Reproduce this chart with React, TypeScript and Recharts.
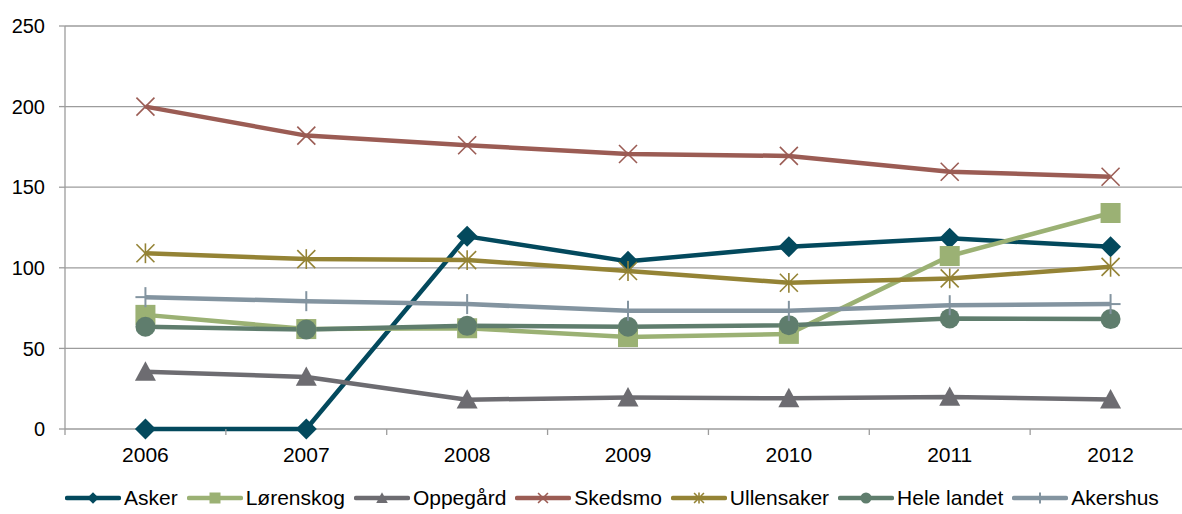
import React from "react"
import { LineChart, Line, XAxis, YAxis, CartesianGrid } from "recharts"

const years = ["2006", "2007", "2008", "2009", "2010", "2011", "2012"]
const asker = [0, 0, 119.5, 104, 113, 118.3, 113]
const lorenskog = [70.8, 62, 62.5, 57, 59, 107.3, 134]
const oppegard = [35.5, 32.3, 18.2, 19.5, 19, 19.9, 18.3]
const skedsmo = [200, 182, 176, 170.6, 169.4, 159.6, 156.5]
const ullensaker = [109, 105.4, 104.8, 98, 90.7, 93.4, 100.6]
const heleLandet = [63.4, 61.7, 64, 63.4, 64.4, 68.6, 68.2]
const akershus = [81.8, 79.3, 77.5, 73.3, 73.3, 76.8, 77.5]
const yTicks = [0, 50, 100, 150, 200, 250]

type Shape = "diamond" | "square" | "triangle" | "x" | "star" | "circle" | "plus"

const series: { key: string; name: string; color: string; shape: Shape; values: number[] }[] = [
  { key: "asker", name: "Asker", color: "#03495d", shape: "diamond", values: asker },
  { key: "lorenskog", name: "Lørenskog", color: "#9bb174", shape: "square", values: lorenskog },
  { key: "oppegard", name: "Oppegård", color: "#6d6c71", shape: "triangle", values: oppegard },
  { key: "skedsmo", name: "Skedsmo", color: "#9b5c54", shape: "x", values: skedsmo },
  { key: "ullensaker", name: "Ullensaker", color: "#948335", shape: "star", values: ullensaker },
  { key: "heleLandet", name: "Hele landet", color: "#5f7d6d", shape: "circle", values: heleLandet },
  { key: "akershus", name: "Akershus", color: "#8394a0", shape: "plus", values: akershus },
]

const data = years.map((y, i) => {
  const row: Record<string, number | string> = { i, year: y }
  series.forEach((s) => (row[s.key] = s.values[i]))
  return row
})

// half-band ticks between the categories, like Excel draws them
const xTicks = [-0.5, 0, 0.5, 1, 1.5, 2, 2.5, 3, 3.5, 4, 4.5, 5, 5.5, 6, 6.5]

const FONT = "'Liberation Sans', Arial, sans-serif"
const GRID = "#9c9c9c"

function Marker({ shape, color, cx, cy, s = 1 }: { shape: Shape; color: string; cx: number; cy: number; s?: number }) {
  switch (shape) {
    case "diamond": {
      const r = 10.5 * s
      return <polygon points={`${cx},${cy - r} ${cx + r},${cy} ${cx},${cy + r} ${cx - r},${cy}`} fill={color} />
    }
    case "square": {
      const r = 10 * s
      return <rect x={cx - r} y={cy - r} width={2 * r} height={2 * r} fill={color} />
    }
    case "triangle": {
      const r = 10.5 * s
      return <polygon points={`${cx},${cy - r} ${cx + r},${cy + r * 0.85} ${cx - r},${cy + r * 0.85}`} fill={color} />
    }
    case "x": {
      const r = 9 * s
      return (
        <g stroke={color} strokeWidth={1.6}>
          <line x1={cx - r} y1={cy - r} x2={cx + r} y2={cy + r} />
          <line x1={cx - r} y1={cy + r} x2={cx + r} y2={cy - r} />
        </g>
      )
    }
    case "star": {
      const r = 9 * s
      return (
        <g stroke={color} strokeWidth={1.6}>
          <line x1={cx - r} y1={cy - r} x2={cx + r} y2={cy + r} />
          <line x1={cx - r} y1={cy + r} x2={cx + r} y2={cy - r} />
          <line x1={cx} y1={cy - r * 1.1} x2={cx} y2={cy + r * 1.1} />
        </g>
      )
    }
    case "circle":
      return <circle cx={cx} cy={cy} r={10 * s} fill={color} />
    case "plus": {
      const r = 10 * s
      return (
        <g stroke={color} strokeWidth={2}>
          <line x1={cx} y1={cy - r} x2={cx} y2={cy + r} />
          <line x1={cx - r} y1={cy} x2={cx + r} y2={cy} />
        </g>
      )
    }
  }
}

function makeDot(shape: Shape, color: string) {
  return (props: any) => {
    const { cx, cy, index } = props
    if (cx == null || cy == null) return <g key={`e-${index}`} />
    return (
      <g key={`${shape}-${index}`}>
        <Marker shape={shape} color={color} cx={cx} cy={cy} />
      </g>
    )
  }
}

function XTick(props: any) {
  const { x, y, payload } = props
  const v = payload.value as number
  if (Number.isInteger(v)) {
    return (
      <text x={x} y={y + 25} textAnchor="middle" dominantBaseline="central" fontSize={21} fill="#000" fontFamily={FONT}>
        {years[v]}
      </text>
    )
  }
  return <line x1={x} x2={x} y1={y} y2={y + 6} stroke={GRID} strokeWidth={1.3} />
}

function LegendRow() {
  return (
    <div
      style={{
        position: "absolute",
        left: 65,
        top: 486,
        height: 24,
        display: "flex",
        alignItems: "center",
        fontFamily: FONT,
        fontSize: 21,
        color: "#000",
        whiteSpace: "nowrap",
      }}
    >
      {series.map((s) => (
        <div key={s.key} style={{ display: "flex", alignItems: "center", marginRight: 9 }}>
          <svg width={56} height={22}>
            <line x1={2} x2={54} y1={11} y2={11} stroke={s.color} strokeWidth={4.5} strokeLinecap="round" />
            <Marker shape={s.shape} color={s.color} cx={28} cy={11} s={0.55} />
          </svg>
          <span style={{ marginLeft: 3 }}>{s.name}</span>
        </div>
      ))}
    </div>
  )
}

export default function App() {
  return (
    <div
      style={{
        position: "fixed",
        left: 0,
        top: 0,
        width: 1182,
        height: 514,
        overflow: "hidden",
        background: "#fff",
      }}
    >
      <LineChart width={1200} height={470} data={data} margin={{ top: 26, right: 9, left: 0, bottom: 0 }}>
        <CartesianGrid vertical={false} stroke={GRID} strokeWidth={1.3} />
        <XAxis
          dataKey="i"
          type="number"
          domain={[-0.5, 6.5]}
          ticks={xTicks}
          interval={0}
          height={41}
          tickSize={0}
          tickMargin={0}
          tickLine={false}
          axisLine={false}
          tick={<XTick />}
        />
        <YAxis
          width={65}
          domain={[0, 250]}
          ticks={yTicks}
          interval={0}
          tickSize={6}
          tickMargin={14}
          tickLine={{ stroke: GRID, strokeWidth: 1.3 }}
          axisLine={{ stroke: GRID, strokeWidth: 1.3 }}
          tick={{ fontSize: 20, fill: "#000", fontFamily: FONT }}
        />
        {series.map((s) => (
          <Line
            key={s.key}
            dataKey={s.key}
            name={s.name}
            type="linear"
            stroke={s.color}
            strokeWidth={4.5}
            strokeLinejoin="round"
            dot={makeDot(s.shape, s.color)}
            activeDot={false}
            isAnimationActive={false}
          />
        ))}
      </LineChart>
      <LegendRow />
    </div>
  )
}
